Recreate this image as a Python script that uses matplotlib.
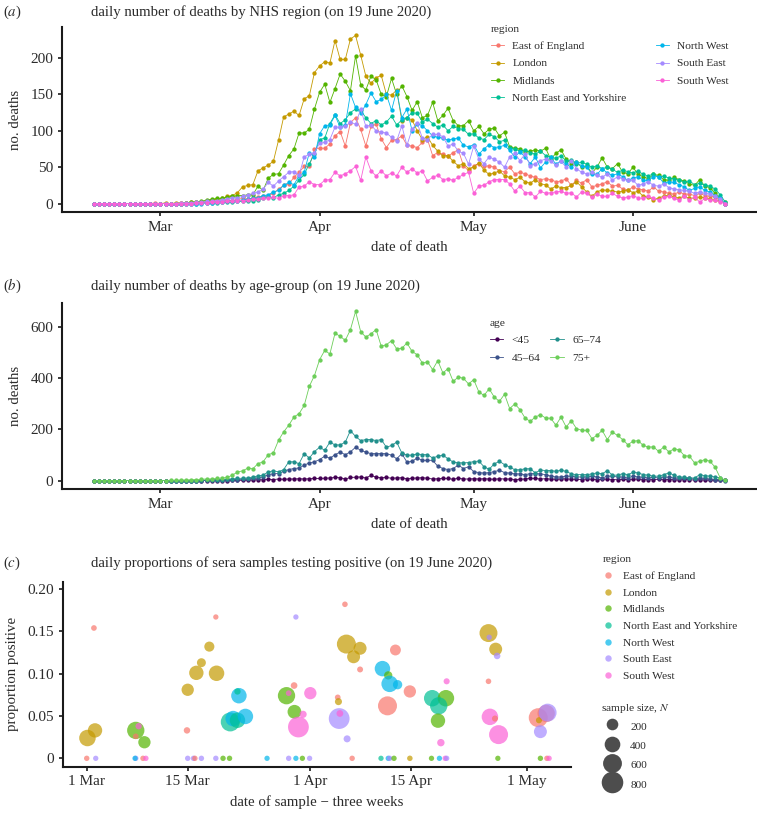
import numpy as np
import pandas as pd
import matplotlib
matplotlib.use('Agg')
import matplotlib.pyplot as plt
from matplotlib.lines import Line2D

plt.rcParams['font.family'] = ['Liberation Serif', 'DejaVu Serif']
plt.rcParams['mathtext.fontset'] = 'stix'

# ------------------------------------------------------------------ data
start_date = '2020-02-17'
n_days = 124

regions = ['East of England', 'London', 'Midlands', 'North East and Yorkshire',
           'North West', 'South East', 'South West']
region_colors = ['#F8766D', '#C49A00', '#53B400', '#00C094', '#00B6EB', '#A58AFF', '#FB61D7']

east_of_england = [0,0,0,0,0,0,0,0,0,0,0,0,1,0,0,0,0,1,1,1,
    1,2,2,3,3,4,5,4,6,7,6,8,9,10,
    11,14,20,25,27,36,43,51,51,75,76,76,82,93,99,79,111,118,102,79,106,
    109,89,77,87,88,
    93,80,79,77,84,88,66,70,68,65,70,74,
    52,45,52,55,51,52,50,45,44,50,41,43,41,38,36,33,34,33,30,31,
    34,25,32,28,33,23,25,27,30,24,25,20,18,23,20,19,17,23,17,16,
    14,13,16,13,13,11,14,11,10,9,5,0]
london = [0,0,0,0,0,0,0,0,0,0,0,0,0,0,1,0,1,1,1,2,
    2,2,3,5,6,7,10,11,15,23,25,26,45,49,53,58,87,119,123,127,
    121,144,148,180,189,195,193,224,198,198,226,231,204,175,165,
    173,176,150,149,156,114,118,115,100,88,92,80,72,65,66,58,52,55,48,50,
    56,46,40,42,45,38,36,33,36,30,28,33,27,26,20,24,22,22,25,30,
    23,16,10,16,19,18,17,16,17,19,15,17,10,9,5,8,10,12,9,8,
    10,7,8,9,8,6,5,3,2]
midlands = [0,0,0,0,0,0,0,0,0,0,0,0,0,0,0,0,0,0,1,2,
    2,3,5,6,7,7,9,10,11,11,12,12,
    24,18,35,40,41,53,66,75,97,97,102,130,153,164,139,158,178,168,155,203,163,156,175,
    170,150,147,172,150,
    162,147,128,140,118,121,139,114,121,131,114,107,107,114,100,106,96,102,104,93,
    98,78,76,75,71,72,74,72,76,61,69,74,61,55,57,50,52,42,50,63,
    50,48,55,43,41,50,40,37,34,40,39,33,32,36,33,31,27,25,33,24,
    22,14,8,0]
north_east_yorkshire = [0,0,0,0,0,0,0,0,0,0,0,0,0,0,0,0,0,0,0,0,
    0,1,1,1,1,2,2,2,3,3,
    3,4,5,7,9,8,12,14,18,24,32,40,55,68,88,90,110,122,110,115,125,130,128,118,110,114,
    108,112,120,108,115,
    118,125,124,112,116,110,105,108,100,106,103,102,95,96,90,88,95,92,85,87,
    76,75,72,74,70,68,72,66,64,62,66,58,60,55,57,54,50,52,48,50,
    47,43,46,44,42,45,40,38,41,36,38,35,34,32,30,31,26,28,25,24,
    20,12,2]
north_west = [0,0,0,0,0,0,0,0,0,0,0,0,0,0,0,0,0,0,0,0,0,0,
    1,1,2,2,3,3,4,5,6,7,
    8,11,12,16,18,25,29,26,38,43,70,64,96,107,108,121,105,108,151,132,124,136,152,
    140,143,150,128,155,118,130,100,110,107,100,
    93,91,90,87,89,90,80,78,81,68,75,81,77,78,80,73,64,71,64,55,
    64,49,57,64,54,59,54,50,57,52,50,41,40,48,42,39,41,37,32,35,
    37,32,32,37,37,28,30,29,26,23,18,21,23,18,16,11,7,0]
south_east = [0,0,0,0,0,0,0,0,0,0,0,0,0,0,0,0,0,
    1,1,1,2,2,3,3,4,5,6,8,8,10,12,
    14,16,20,29,24,31,37,43,44,39,64,68,70,83,84,88,105,105,106,112,109,130,106,108,
    100,98,97,91,86,107,80,102,111,
    90,88,95,95,92,79,82,72,69,54,79,61,55,64,61,57,50,64,69,59,
    68,52,55,59,61,58,53,58,50,59,48,43,41,43,39,36,41,32,37,34,
    32,32,25,27,30,25,24,27,22,20,19,18,17,14,16,14,13,10,6,0]
south_west = [0,0,0,0,0,0,0,0,0,0,0,0,0,0,0,0,0,0,0,0,
    1,1,1,2,2,2,3,3,4,4,5,6,6,7,8,
    9,7,11,11,12,23,24,30,26,26,32,33,43,38,41,45,51,32,64,45,
    38,45,38,42,38,
    50,43,48,42,45,31,36,39,33,34,32,36,40,43,14,24,25,30,33,33,
    33,27,17,24,15,15,9,17,14,15,16,17,14,15,9,16,14,9,13,10,
    10,14,10,8,9,11,8,7,10,7,5,9,10,7,5,10,5,9,2,7,
    5,5,2,0]

ages = ['<45', '45–64', '65–74', '75+']
age_under45 = [0,0,0,0,0,0,0,0,0,0,0,0,0,0,0,0,0,0,0,0,0,0,0,0,0,0,
    0,1,1,1,2,2,3,3,
    5,4,6,5,6,6,7,6,7,8,8,9,10,12,11,6,12,13,14,10,20,13,11,12,9,10,11,7,9,10,11,9,6,7,9,8,5,9,6,
    6,7,6,7,6,5,7,6,6,4,5,6,9,8,6,7,6,5,6,7,5,5,4,6,5,4,5,6,4,3,
    5,4,5,6,4,3,4,5,3,4,3,2,4,3,2,3,2,2,1,2,1]
age_45_64 = [0,0,0,0,0,0,0,0,0,0,0,0,0,0,0,0,0,0,0,0,0,
    0,1,1,2,2,3,3,4,5,6,8,10,15,
    22,27,27,36,43,47,49,60,69,73,82,95,87,101,111,101,112,130,118,111,
    105,105,105,105,99,85,105,72,75,88,79,79,79,56,47,43,47,60,47,
    54,35,31,29,31,35,40,31,29,26,26,23,27,27,26,23,17,14,14,17,
    17,14,14,14,17,14,10,17,17,14,14,10,17,14,13,10,13,10,14,13,
    10,10,8,8,6,10,8,6,4,4,0]
age_65_74 = [0,0,0,0,0,0,0,0,0,0,0,0,0,0,0,0,0,0,0,0,0,
    1,2,2,3,4,5,6,8,9,10,14,
    18,21,34,38,34,43,73,73,66,105,88,113,130,118,150,139,139,150,195,172,
    156,160,160,156,160,130,137,150,108,99,99,104,101,101,88,95,99,85,72,69,69,
    70,74,76,54,44,65,75,62,53,42,42,46,46,30,41,39,39,36,40,36,
    26,23,23,23,26,30,26,39,21,21,27,23,32,30,23,21,17,17,23,30,
    21,14,13,10,10,23,19,17,14,10,1]
age_75_plus = [0,0,0,0,0,0,0,0,0,0,0,0,0,0,0,
    1,1,2,2,3,4,
    5,6,6,8,10,12,21,33,38,48,46,66,73,101,108,157,190,216,248,261,
    293,368,410,472,508,494,575,563,547,589,660,581,560,573,589,524,530,546,514,516,
    537,504,491,459,463,433,468,420,437,387,404,399,
    377,394,346,332,358,326,309,337,281,299,277,244,231,248,257,244,243,216,248,209,
    234,203,196,196,164,176,196,160,189,176,160,140,153,156,137,131,131,114,131,112,
    124,120,97,95,69,75,82,75,52,10,2]
age_colors = ['#440154', '#3B528B', '#21908C', '#6CCE59']

month_ticks = ['2020-03-01', '2020-04-01', '2020-05-01', '2020-06-01']
month_labels = ['Mar', 'Apr', 'May', 'June']

# sera samples: region, days after 1 March (jittered), proportion positive, sample size
sera_region = ['East of England', 'South East', 'East of England', 'London', 'London',
    'Midlands', 'South West', 'East of England', 'Midlands', 'South East', 'North West',
    'East of England', 'South West',
    'London', 'East of England', 'London', 'London', 'London', 'East of England', 'London',
    'North West', 'North East and Yorkshire', 'North East and Yorkshire', 'North West',
    'North East and Yorkshire', 'North West',
    'South East', 'South East', 'East of England', 'South East', 'South East', 'Midlands', 'Midlands',
    'North West', 'South East', 'North West', 'Midlands', 'South East',
    'South East', 'Midlands', 'East of England', 'South West', 'Midlands', 'South West',
    'South West', 'South West',
    'East of England', 'London', 'London', 'London', 'East of England', 'East of England',
    'London', 'South East', 'South West', 'South East', 'East of England',
    'East of England', 'North West', 'Midlands', 'North West', 'North West', 'East of England',
    'East of England', 'North East and Yorkshire', 'North West', 'South East', 'Midlands', 'London',
    'North East and Yorkshire', 'Midlands', 'North East and Yorkshire', 'Midlands', 'South West',
    'South West', 'Midlands', 'North West', 'South West', 'South East',
    'London', 'South East', 'London', 'South East', 'East of England', 'South West',
    'East of England', 'South West', 'Midlands',
    'East of England', 'East of England', 'London', 'South East', 'South East', 'Midlands',
    'East of England', 'South West']
sera_day = [0.0, 1.25, 1.0, 0.1, 1.15,
    6.8, 7.2, 6.8, 8.0, 6.8, 6.7,
    7.8, 8.2,
    14.0, 13.9, 15.2, 15.9, 17.0, 17.9, 18.0,
    21.1, 20.9, 19.9, 20.3,
    20.9, 22.0,
    14.0, 14.8, 15.0, 15.9, 17.9, 18.9, 19.8,
    25.0, 28.0, 29.0, 29.9, 30.9,
    29.0, 27.7, 28.75, 28.0, 28.8, 29.35,
    30.0, 31.0,
    35.8, 36.0, 37.9, 37.0, 37.9, 34.8,
    34.9, 35.0, 35.1, 36.1, 36.8,
    42.8, 41.0, 41.8, 42.0, 43.1, 41.7,
    44.8, 40.8, 41.8, 42.0, 42.6, 44.8,
    47.9, 49.8, 48.8, 48.7, 49.1,
    49.9, 47.8, 48.9, 49.7, 49.9,
    55.7, 55.8, 56.7, 56.9, 55.7, 55.9,
    56.6, 57.1, 57.0,
    62.6, 63.7, 62.7, 63.9, 62.9, 62.9,
    63.8, 64.1]
sera_prop = [0.0, 0.0, 0.154, 0.024, 0.033,
    0.033, 0.038, 0.026, 0.019, 0.0, 0.0,
    0.0, 0.0,
    0.081, 0.033, 0.101, 0.113, 0.132, 0.167, 0.1005,
    0.074, 0.079, 0.043, 0.047,
    0.045, 0.0495,
    0.0, 0.0, 0.0, 0.0, 0.0, 0.0, 0.0,
    0.0, 0.0, 0.0, 0.0, 0.0,
    0.167, 0.074, 0.086, 0.077, 0.055, 0.037,
    0.052, 0.077,
    0.182, 0.135, 0.13, 0.12, 0.105, 0.072,
    0.067, 0.047, 0.053, 0.023, 0.0,
    0.128, 0.106, 0.098, 0.088, 0.087, 0.062,
    0.079, 0.0, 0.0, 0.0, 0.0, 0.0,
    0.071, 0.071, 0.062, 0.0445, 0.0185,
    0.091, 0.0, 0.0, 0.0, 0.0,
    0.148, 0.143, 0.129, 0.121, 0.091, 0.049,
    0.047, 0.028, 0.0,
    0.048, 0.053, 0.045, 0.054, 0.0315, 0.0,
    0.0, 0.0]
sera_n = [8, 6, 13, 450, 330,
    500, 28, 12, 230, 8, 6,
    8, 8,
    230, 30, 330, 100, 140, 6, 390,
    390, 28, 610, 390,
    390, 390,
    8, 8, 8, 8, 8, 8, 8,
    6, 8, 6, 6, 6,
    6, 500, 35, 13, 300, 740,
    48, 230,
    11, 610, 260, 260, 19, 14,
    45, 740, 38, 44, 8,
    170, 390, 80, 450, 113, 610,
    230, 6, 6, 8, 8, 10,
    450, 450, 500, 330, 54,
    22, 6, 6, 8, 8,
    540, 7, 260, 33, 11, 450,
    21, 610, 6,
    610, 500, 22, 540, 260, 8,
    8, 8]
size_breaks = [200, 400, 600, 800]
sera_ticks = [0, 14, 31, 45, 61]
sera_tick_labels = ['1 Mar', '15 Mar', '1 Apr', '15 Apr', '1 May']

# ------------------------------------------------------------------ helpers
W, H = 757, 818
fig = plt.figure(figsize=(W / 100, H / 100), dpi=100)
TXT = '#2b2b2b'
FS_TICK = 11
FS_LAB = 10.7
FS_TITLE = 10.6
FS_LEG = 8.2


def fx(px):
    return px / W


def fy(py):
    return 1 - py / H


def style(ax):
    for s in ['top', 'right']:
        ax.spines[s].set_visible(False)
    for s in ['left', 'bottom']:
        ax.spines[s].set_linewidth(1.5)
        ax.spines[s].set_color('#1a1a1a')
    ax.tick_params(axis='both', length=3.2, width=1.2, color='#1a1a1a',
                   labelsize=FS_TICK, labelcolor=TXT, pad=3)


def size_to_s(n):
    area_px = 25 + 0.55 * np.asarray(n, dtype=float)
    return area_px * 0.72 ** 2


def color_legend(leg):
    for t in leg.get_texts():
        t.set_color(TXT)
    leg.get_title().set_color(TXT)


dates = pd.date_range(start_date, periods=n_days, freq='D')
pad_days = pd.Timedelta(days=0.05 * (n_days - 1))
mt = pd.to_datetime(month_ticks)

# ------------------------------------------------------------------ panel (a)
axA = fig.add_axes([fx(62), fy(212), fx(757 - 62), (212 - 27) / H])
region_series = [east_of_england, london, midlands, north_east_yorkshire,
                 north_west, south_east, south_west]
for name, vals, col in zip(regions, region_series, region_colors):
    axA.plot(dates, vals, '-', color=col, lw=0.6, marker='o', ms=3.1,
             mec=col, mfc=col, mew=0, label=name)
axA.set_xlim(dates[0] - pad_days, dates[-1] + pad_days)
ymaxA = max(max(v) for v in region_series)
axA.set_ylim(-0.05 * ymaxA, 1.05 * ymaxA)
axA.set_yticks([0, 50, 100, 150, 200])
axA.set_xticks(mt)
axA.set_xticklabels(month_labels)
style(axA)
axA.set_xlabel('date of death', fontsize=FS_LAB, color=TXT, labelpad=5)
axA.set_ylabel('no. deaths', fontsize=FS_LAB, color=TXT, labelpad=6)
legA = axA.legend(title='region', ncol=2, loc='upper left',
                  bbox_to_anchor=(fx(485), fy(19.5)), bbox_transform=fig.transFigure,
                  frameon=False, fontsize=FS_LEG, title_fontsize=FS_LEG,
                  handlelength=1.2, handletextpad=0.7, columnspacing=2.55,
                  labelspacing=0.63, borderpad=0, alignment='left')
color_legend(legA)

# ------------------------------------------------------------------ panel (b)
axB = fig.add_axes([fx(62), fy(489), fx(757 - 62), (489 - 303) / H])
age_series = [age_under45, age_45_64, age_65_74, age_75_plus]
for name, vals, col in zip(ages, age_series, age_colors):
    axB.plot(dates, vals, '-', color=col, lw=0.6, marker='o', ms=3.1,
             mec=col, mfc=col, mew=0, label=name)
axB.set_xlim(dates[0] - pad_days, dates[-1] + pad_days)
ymaxB = max(max(v) for v in age_series)
axB.set_ylim(-0.05 * ymaxB, 1.05 * ymaxB)
axB.set_yticks([0, 200, 400, 600])
axB.set_xticks(mt)
axB.set_xticklabels(month_labels)
style(axB)
axB.set_xlabel('date of death', fontsize=FS_LAB, color=TXT, labelpad=5)
axB.set_ylabel('no. deaths', fontsize=FS_LAB, color=TXT, labelpad=6)
legB = axB.legend(title='age', ncol=2, loc='upper left',
                  bbox_to_anchor=(fx(484), fy(313)), bbox_transform=fig.transFigure,
                  frameon=False, fontsize=FS_LEG, title_fontsize=FS_LEG,
                  handlelength=1.2, handletextpad=0.7, columnspacing=0.9,
                  labelspacing=0.66, borderpad=0, alignment='left')
color_legend(legB)

# ------------------------------------------------------------------ panel (c)
axC = fig.add_axes([fx(62.7), fy(766.7), fx(570.7 - 62.7), (766.7 - 581.7) / H])
col_of = dict(zip(regions, region_colors))
axC.scatter(sera_day, sera_prop, s=size_to_s(sera_n),
            c=[col_of[r] for r in sera_region], alpha=0.7, linewidths=0, zorder=3)
axC.set_xlim(-3.33, 67.1)
axC.set_ylim(-0.0099, 0.2087)
axC.set_xticks(sera_ticks)
axC.set_xticklabels(sera_tick_labels)
axC.set_yticks([0, 0.05, 0.10, 0.15, 0.20])
axC.set_yticklabels(['0', '0.05', '0.10', '0.15', '0.20'])
style(axC)
axC.set_xlabel('date of sample − three weeks', fontsize=FS_LAB, color=TXT, labelpad=5)
axC.set_ylabel('proportion positive', fontsize=FS_LAB, color=TXT, labelpad=6)

reg_handles = [Line2D([], [], ls='', marker='o', ms=4.6, mfc=c, mec=c, mew=0, alpha=0.7)
               for c in region_colors]
legC1 = axC.legend(reg_handles, regions, title='region', loc='upper left',
                   bbox_to_anchor=(fx(597), fy(549.5)), bbox_transform=fig.transFigure,
                   frameon=False, fontsize=FS_LEG, title_fontsize=FS_LEG,
                   handlelength=1.0, handletextpad=0.8, labelspacing=0.59,
                   borderpad=0, alignment='left')
color_legend(legC1)
axC.add_artist(legC1)

size_handles = [Line2D([], [], ls='', marker='o', ms=float(np.sqrt(size_to_s(b))),
                       mfc='#4d4d4d', mec='#4d4d4d', mew=0)
                for b in size_breaks]
legC2 = axC.legend(size_handles, [str(b) for b in size_breaks], title='sample size, $N$',
                   loc='upper left',
                   bbox_to_anchor=(fx(595), fy(696.5)), bbox_transform=fig.transFigure,
                   frameon=False, fontsize=FS_LEG, title_fontsize=FS_LEG,
                   handlelength=2.0, handleheight=1.75, handletextpad=0.6,
                   labelspacing=0.3, borderpad=0, alignment='left')
color_legend(legC2)

# ------------------------------------------------------------------ titles & tags
titles = ['daily number of deaths by NHS region (on 19 June 2020)',
          'daily number of deaths by age-group (on 19 June 2020)',
          'daily proportions of sera samples testing positive (on 19 June 2020)']
tags = ['($a$)', '($b$)', '($c$)']
title_y = [12, 286, 563]
for tg, tt, yy in zip(tags, titles, title_y):
    fig.text(fx(3), fy(yy), tg, fontsize=FS_TITLE, color=TXT, va='center', ha='left')
    fig.text(fx(91), fy(yy), tt, fontsize=FS_TITLE, color=TXT, va='center', ha='left')

fig.savefig('out.png', dpi=100, facecolor='white')
